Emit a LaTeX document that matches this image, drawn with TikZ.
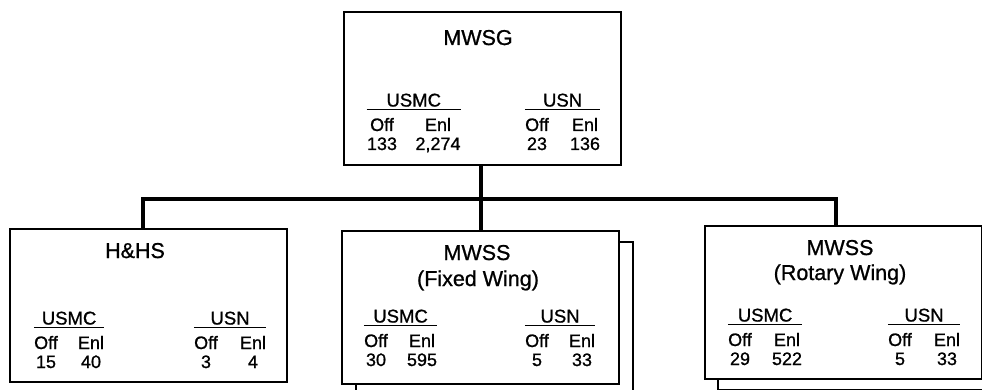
\documentclass[tikz,border=0pt]{standalone}
\usepackage{fontspec}
\setmainfont{Liberation Sans}[FakeBold=0.9]
\usepackage{tikz}
\usetikzlibrary{positioning,fit}

% #1 name, #2 service, #3 x of Off, #4 x of Enl, #5 baseline of Off/Enl, #6 officers, #7 enlisted
\newcommand{\crew}[7]{%
\node[num] (#1-o) at (#3,#5) {Off};
\node[num] (#1-e) at (#4,#5) {Enl};
\node[num] (#1-on) at (#3,#5+19) {#6};
\node[num] (#1-en) at (#4,#5+19) {#7};
\node[fit=(#1-o)(#1-e)(#1-on)(#1-en),inner sep=0pt] (#1) {};
\draw[rule] ([yshift=8pt]#1.north west) -- ([yshift=8pt]#1.north east);
\node[head] (#1-h) at ([yshift=11pt]#1.north) {#2};
}

\begin{document}
\begin{tikzpicture}
[x=1pt,y=-1pt,
unit/.style={draw,line width=2pt,fill=white,minimum width=277pt,
  minimum height=153pt,inner sep=0pt},
title/.style={font=\fontsize{21.5}{25}\selectfont,anchor=base,inner sep=0pt},
head/.style={font=\fontsize{18.5}{21}\selectfont,anchor=base,inner sep=0pt},
num/.style={font=\fontsize{18}{20}\selectfont,anchor=base,inner sep=0pt},
bus/.style={line width=4pt},
rule/.style={line width=1pt}]
\useasboundingbox (0,0) rectangle (982,390);
\clip (0,0) rectangle (982,390);

% boxes
\node[unit] (mwsg) at (482,88.5) {};
\node[unit] (hhs) at (148.5,305.5) {};
\node[unit] (fw-back) at (494.5,318.5) {};
\node[unit] (fw) at (480.5,307) {};
\node[unit] (rw-back) at (856,313.5) {};
\node[unit] (rw) at (843,302.5) {};

% connectors
\coordinate (bus) at (480,199);
\draw[bus] (fw.north) -- (fw.north |- mwsg.south);
\draw[bus] ([xshift=-6pt]hhs.north) |- (bus) -| ([xshift=-7pt]rw.north);

% titles
\node[title] (mwsg-t) at (478,45) {MWSG};
\node[title] (hhs-t) at (135,258) {H\&HS};
\node[title] (fw-t) at (477,260) {MWSS};
\node[title] (fw-s) at (478,286) {(Fixed Wing)};
\node[title] (rw-t) at (840,255) {MWSS};
\node[title] (rw-s) at (840,280) {(Rotary Wing)};

% manning
\crew{mwsg-mc}{USMC}{382}{438}{131}{133}{2,274}
\crew{mwsg-n}{USN}{537}{585}{131}{23}{136}
\crew{hhs-mc}{USMC}{46}{91}{349}{15}{40}
\crew{hhs-n}{USN}{206}{253}{349}{3}{4}
\crew{fw-mc}{USMC}{376}{422}{347}{30}{595}
\crew{fw-n}{USN}{537}{582}{347}{5}{33}
\crew{rw-mc}{USMC}{740}{787}{346}{29}{522}
\crew{rw-n}{USN}{900}{947}{346}{5}{33}

\end{tikzpicture}
\end{document}
